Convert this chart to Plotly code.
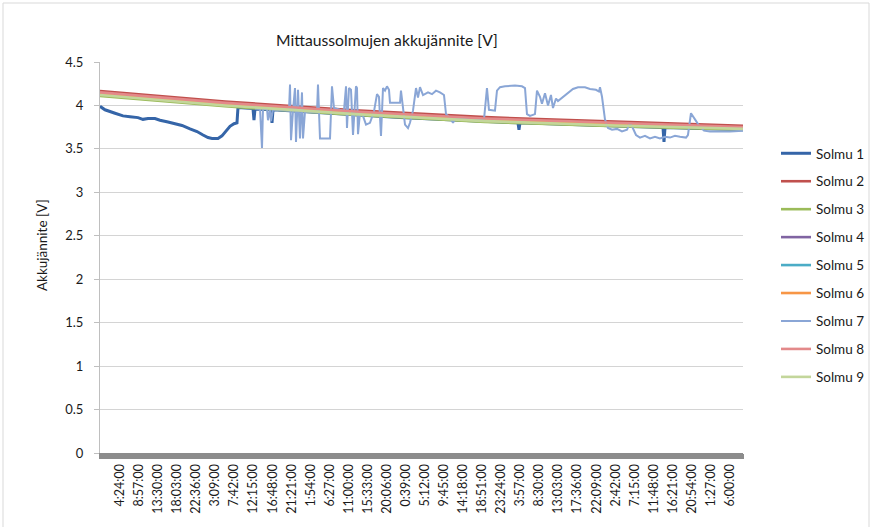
import plotly.graph_objects as go

# ---------------- data ----------------
START = "23:38:00"  # time at left edge of the plot
tick_labels = ["4:24:00", "8:57:00", "13:30:00", "18:03:00", "22:36:00", "3:09:00", "7:42:00",
               "12:15:00", "16:48:00", "21:21:00", "1:54:00", "6:27:00", "11:00:00", "15:33:00",
               "20:06:00", "0:39:00", "5:12:00", "9:45:00", "14:18:00", "18:51:00", "23:24:00",
               "3:57:00", "8:30:00", "13:03:00", "17:36:00", "22:09:00", "2:42:00", "7:15:00",
               "11:48:00", "16:21:00", "20:54:00", "1:27:00", "6:00:00"]

# hours elapsed since START
t_bundle = [0.0, 29.84, 60.87, 91.91, 122.94, 153.5]
solmu2 = [4.165, 4.045, 3.945, 3.865, 3.815, 3.765]
solmu3 = [4.11, 3.99, 3.89, 3.81, 3.76, 3.72]
solmu4 = [4.14, 4.02, 3.92, 3.84, 3.79, 3.74]
solmu5 = [4.13, 4.01, 3.91, 3.83, 3.78, 3.74]
solmu6 = [4.14, 4.02, 3.91, 3.84, 3.79, 3.74]
solmu8 = [4.15, 4.03, 3.93, 3.85, 3.80, 3.75]
solmu9 = [4.12, 4.00, 3.90, 3.82, 3.77, 3.73]

t1 = [0.0, 1.19, 3.58, 5.49, 7.16, 9.07, 10.26, 11.46, 13.13, 14.32, 16.23, 17.90, 19.58,
      21.48, 23.16, 24.59, 25.78, 26.74, 28.17, 29.12, 30.08, 31.03, 31.99, 32.70, 32.94,
      36.52, 36.76, 37.00, 40.82, 41.06, 41.30, 71.62, 99.78, 100.02, 100.26, 134.40,
      134.64, 134.88, 153.5]
solmu1 = [3.99, 3.95, 3.91, 3.88, 3.87, 3.86, 3.84, 3.85, 3.85, 3.83, 3.81, 3.79, 3.77,
          3.73, 3.70, 3.66, 3.63, 3.62, 3.62, 3.65, 3.71, 3.76, 3.79, 3.80, 3.975,
          3.965, 3.83, 3.96, 3.95, 3.80, 3.95, 3.86, 3.80, 3.72, 3.80, 3.745,
          3.58, 3.745, 3.72]

t7 = [37.00, 38.20, 38.67, 38.91, 39.87, 40.10, 40.58, 40.82, 41.30, 42.97, 45.12, 45.36,
      45.60, 46.07, 46.55, 46.79, 47.27, 47.74, 48.22, 48.46, 48.94, 51.80, 52.04, 52.52,
      54.91, 55.38, 55.86, 57.29, 58.25, 58.73, 58.96, 59.44, 59.92, 60.40, 61.11, 61.35,
      61.59, 62.07, 62.78, 63.50, 64.45, 65.41, 66.13, 66.60, 67.08, 67.56, 68.04, 68.51,
      68.99, 69.23, 70.42, 71.62, 71.85, 72.33, 72.81, 73.53, 74.00, 74.72, 75.44, 75.91,
      76.39, 77.11, 78.30, 79.26, 80.21, 81.16, 82.12, 82.60, 83.55, 84.27, 84.98, 88.33,
      91.67, 92.38, 92.86, 94.29, 94.77, 95.49, 96.68, 99.07, 100.74, 101.46, 101.93,
      102.65, 103.84, 104.32, 105.04, 105.51, 106.23, 106.95, 107.66, 108.14, 108.86,
      109.33, 110.53, 111.72, 112.91, 114.11, 115.78, 116.97, 118.40, 119.12, 119.36,
      119.84, 120.55, 121.27, 122.23, 123.42, 124.61, 125.81, 126.52, 127.00, 127.96,
      128.91, 130.10, 131.30, 132.49, 133.68, 134.88, 136.07, 137.26, 138.46, 139.89,
      140.36, 141.08, 142.04, 142.99, 144.19, 145.62, 148.01, 150.39, 153.50]
solmu7 = [3.965, 3.96, 3.51, 3.96, 3.96, 3.83, 3.955, 3.82, 3.953, 3.95, 3.94, 4.24,
          3.60, 3.94, 4.20, 3.58, 4.18, 3.62, 4.15, 3.62, 3.93, 3.92, 4.24, 3.62,
          3.62, 4.22, 3.97, 3.95, 3.94, 4.22, 3.74, 4.20, 4.18, 3.66, 4.22, 4.20,
          3.67, 3.92, 3.88, 3.78, 3.80, 3.93, 4.13, 4.10, 3.65, 4.20, 4.17, 4.22,
          4.18, 4.03, 4.03, 4.03, 4.17, 3.98, 3.78, 3.74, 3.80, 3.94, 4.20, 4.09,
          4.21, 4.12, 4.15, 4.13, 4.17, 4.15, 4.12, 3.90, 3.86, 3.80, 3.86, 3.85,
          3.84, 4.20, 3.95, 3.94, 4.17, 4.21, 4.22, 4.23, 4.22, 4.20, 3.90,
          3.88, 3.90, 4.17, 4.10, 4.02, 4.14, 4.00, 4.12, 3.97, 4.08,
          4.05, 4.10, 4.15, 4.19, 4.21, 4.21, 4.19, 4.18, 4.16, 4.21,
          4.10, 3.84, 3.74, 3.72, 3.73, 3.70, 3.72, 3.80, 3.76, 3.66,
          3.63, 3.65, 3.62, 3.64, 3.62, 3.64, 3.63, 3.65, 3.64, 3.63,
          3.66, 3.91, 3.84, 3.77, 3.71, 3.70, 3.70, 3.70, 3.71]

names = ["Solmu 1", "Solmu 2", "Solmu 3", "Solmu 4", "Solmu 5", "Solmu 6", "Solmu 7", "Solmu 8", "Solmu 9"]
colors = ["#3565A8", "#C0504D", "#9BBB59", "#8064A2", "#4BACC6", "#F79646", "#8AA6D6", "#E3898A", "#C3D69B"]

# tick positions derived from the time labels
def to_min(s):
    h, m, sec = s.split(":")
    return int(h) * 60 + int(m) + int(sec) / 60

start_min = to_min(START)
tickvals = []
day = 0
prev = start_min
for lab in tick_labels:
    m = to_min(lab)
    if m < prev:
        day += 1
    prev = m
    tickvals.append((m + day * 1440 - start_min) / 60)

series = [
    (t1, solmu1), (t_bundle, solmu2), (t_bundle, solmu3), (t_bundle, solmu4), (t_bundle, solmu5),
    (t_bundle, solmu6), (t7, solmu7), (t_bundle, solmu8), (t_bundle, solmu9),
]

FONT = "Lato, 'Open Sans', sans-serif"
fig = go.Figure()
for i, ((tx, vy), nm, col) in enumerate(zip(series, names, colors)):
    w = 2 if i == 6 else (3 if i == 0 else 2.6)
    fig.add_trace(go.Scatter(
        x=tx, y=vy, name=nm, mode="lines", legendgroup=nm,
        line=dict(color=col, width=w),
    ))

W, H = 872, 527
L, R, T, B = 100, 129, 62, 74
pw, ph = W - L - R, H - T - B

def px_x(x):
    return (x - L) / pw

def px_y(y):
    return (H - B - y) / ph

fig.update_layout(
    width=W, height=H,
    margin=dict(l=L, r=R, t=T, b=B, autoexpand=False),
    paper_bgcolor="white", plot_bgcolor="white",
    font=dict(family=FONT, size=13, color="#1a1a1a"),
    showlegend=True,
    legend=dict(x=px_x(776), y=px_y(138), xanchor="left", yanchor="top",
                traceorder="grouped", tracegroupgap=7.4,
                entrywidth=50, entrywidthmode="pixels",
                font=dict(family=FONT, size=13.5, color="#1a1a1a"),
                bgcolor="rgba(0,0,0,0)"),
    xaxis=dict(range=[0, 153.5], tickmode="array", tickvals=tickvals, ticktext=tick_labels,
               tickangle=-90, showgrid=False, zeroline=False,
               showline=True, linecolor="#8c8c8c", linewidth=1,
               ticks="outside", ticklen=5, tickcolor="#8c8c8c",
               minor=dict(tickmode="linear", tick0=0, dtick=0.25, ticks="outside",
                          ticklen=5, tickwidth=2, tickcolor="#8c8c8c", showgrid=False),
               tickfont=dict(family=FONT, size=12.5, color="#1a1a1a")),
    yaxis=dict(range=[0, 4.5], dtick=0.5, tick0=0, showgrid=True, gridcolor="#d4d4d4",
               gridwidth=1, zeroline=False, showline=True, linecolor="#bfbfbf",
               ticks="outside", ticklen=5, tickcolor="#bfbfbf",
               ticklabelstandoff=8,
               tickfont=dict(family=FONT, size=13, color="#1a1a1a")),
    annotations=[
        dict(text="Mittaussolmujen akkujännite [V]", xref="paper", yref="paper",
             x=px_x(387), y=px_y(40), xanchor="center", yanchor="middle", showarrow=False,
             font=dict(family=FONT, size=15.7, color="#1a1a1a")),
        dict(text="Akkujännite [V]", xref="paper", yref="paper", textangle=-90,
             x=px_x(42), y=px_y(245), xanchor="center", yanchor="middle", showarrow=False,
             font=dict(family=FONT, size=13.5, color="#1a1a1a")),
    ],
    shapes=[
        dict(type="rect", xref="paper", yref="paper",
             x0=px_x(3), x1=px_x(869), y0=px_y(530), y1=px_y(3),
             line=dict(color="#d9d9d9", width=1), fillcolor="rgba(0,0,0,0)", layer="below"),
    ],
)

fig.write_html("out.html")
